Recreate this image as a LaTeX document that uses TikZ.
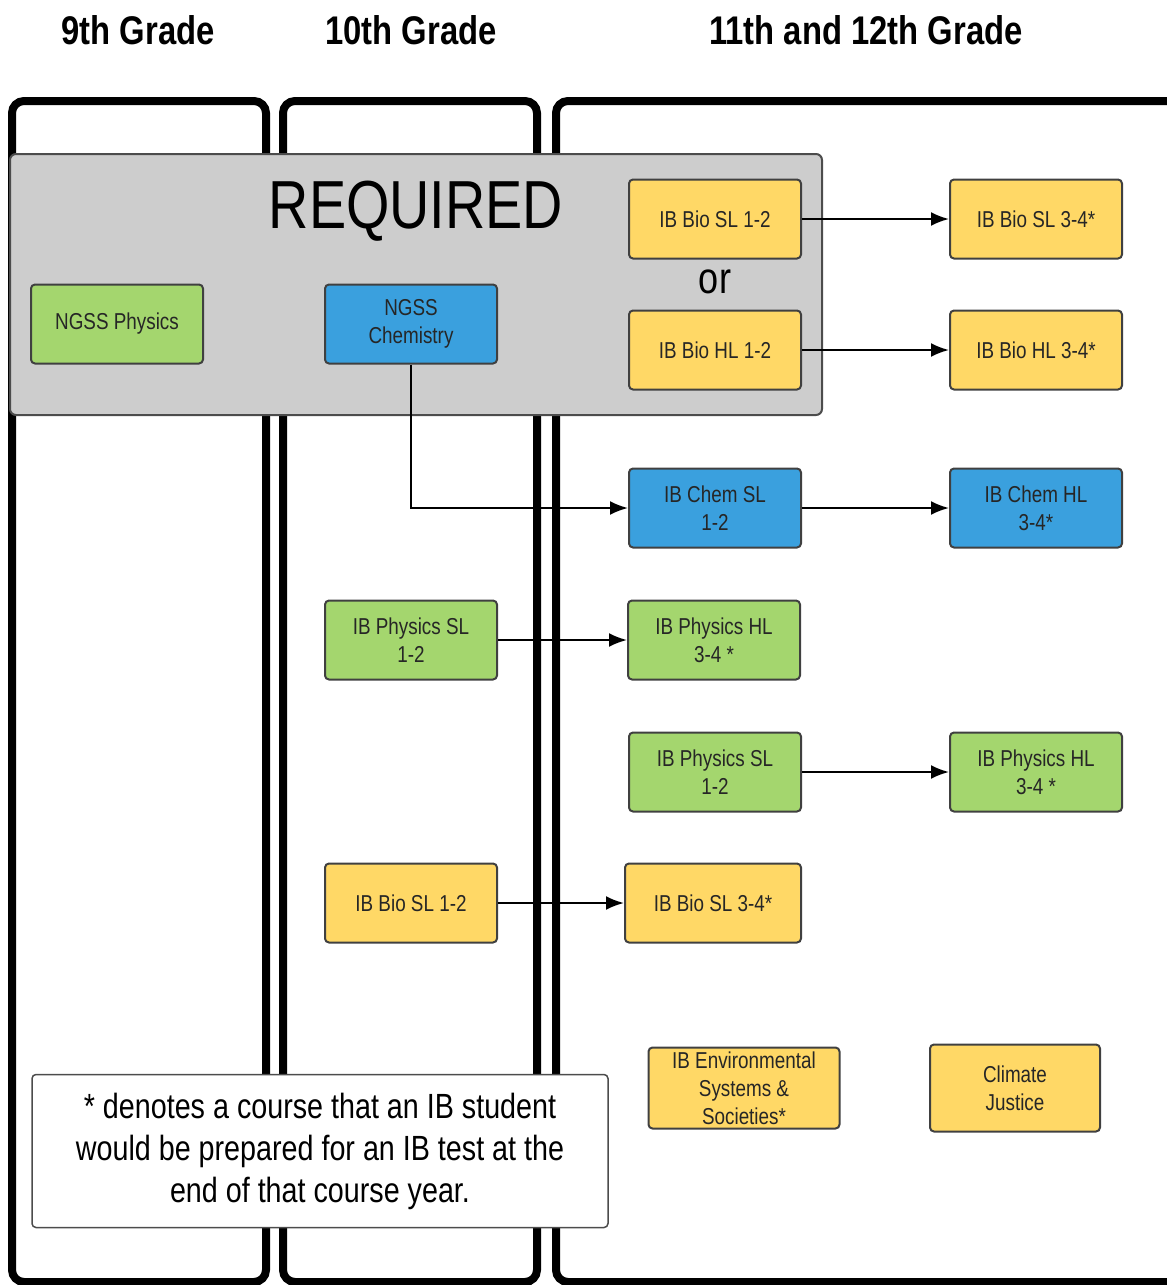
\documentclass[tikz,border=0pt]{standalone}
\usepackage{fontspec}
\setmainfont{Liberation Sans}[FakeStretch=0.82]
\usepackage{xcolor}
\usetikzlibrary{arrows.meta}
\usetikzlibrary{math, positioning}
\definecolor{mygreen}{RGB}{164,214,110}
\definecolor{myblue}{RGB}{58,160,222}
\definecolor{myyellow}{RGB}{255,216,102}
\definecolor{mygray}{RGB}{205,205,205}

\begin{document}
\begin{tikzpicture}[x=1pt,y=-1pt,
  course/.style={draw=black!75, line width=2pt, rounded corners=4pt,
    minimum width=172pt, minimum height=79pt, align=center, inner sep=2pt,
    text=black!85, font=\fontsize{23}{28}\selectfont},
  bio/.style={course, fill=myyellow},
  chem/.style={course, fill=myblue},
  phys/.style={course, fill=mygreen},
  flow/.style={line width=2.2pt, -{Latex[length=18pt,width=14pt]}},
  column/.style={line width=8pt, rounded corners=12pt},
  grade/.style={font=\bfseries\fontsize{40}{48}\selectfont}]
\tikzmath{
\coltop=101;
\colbot=1282;
}
\useasboundingbox (0,0) rectangle (1167,1285);
\clip (0,0) rectangle (1167,1285);

%grade headers
\node[grade] (g9) at (138,30) {9th Grade};
\node[grade] (g10) at (411,30) {10th Grade};
\node[grade] (g11) at (866,30) {11th and 12th Grade};

%columns
\draw[column] (12,\coltop) rectangle (266,\colbot);
\draw[column] (283,\coltop) rectangle (537,\colbot);
\draw[column] (556,\coltop) rectangle (1190,\colbot);

%required block
\draw[fill=mygray, draw=black!70, line width=2pt, rounded corners=6pt] (10,154) rectangle (822,415);
\node[font=\fontsize{68}{80}\selectfont] (req) at (416,211) {REQUIRED};
\node[font=\fontsize{44}{50}\selectfont] (or) at (715,282) {or};

\node[phys] (ngssphys) at (117,324) {NGSS Physics};
\node[chem] (ngsschem) at (411,324) {NGSS\\Chemistry};
\node[bio] (biosl) at (715,219) {IB Bio SL 1-2};
\node[bio] (biohl) at (715,350) {IB Bio HL 1-2};
\node[bio] (biosl34) at (1036,219) {IB Bio SL 3-4*};
\node[bio] (biohl34) at (1036,350) {IB Bio HL 3-4*};

%chemistry
\node[chem] (chemsl) at (715,508) {IB Chem SL\\1-2};
\node[chem] (chemhl) at (1036,508) {IB Chem HL\\3-4*};

%physics
\node[phys] (physsl10) at (411,640) {IB Physics SL\\1-2};
\node[phys] (physhl11) at (714,640) {IB Physics HL\\3-4 *};
\node[phys] (physsl11) at (715,772) {IB Physics SL\\1-2};
\node[phys] (physhl12) at (1036,772) {IB Physics HL\\3-4 *};

%biology and electives
\node[bio] (biosl10) at (411,903) {IB Bio SL 1-2};
\node[bio, minimum width=176pt] (biosl11) at (713,903) {IB Bio SL 3-4*};
\node[bio, minimum width=191pt, minimum height=81pt] (ess) at (744,1088) {IB Environmental\\Systems \&\\Societies*};
\node[bio, minimum width=170pt, minimum height=87pt] (climate) at (1015,1088) {Climate\\Justice};

%note
\node[draw=black!70, fill=white, line width=1.5pt, rounded corners=4pt,
  minimum width=576pt, minimum height=153pt, align=center,
  font=\fontsize{35}{42}\selectfont] (note) at (320,1151)
  {* denotes a course that an IB student\\would be prepared for an IB test at the\\end of that course year.};

%arrows
\draw[flow] (biosl) -- (biosl34);
\draw[flow] (biohl) -- (biohl34);
\draw[flow] (ngsschem.south) |- (chemsl.west);
\draw[flow] (chemsl) -- (chemhl);
\draw[flow] (physsl10) -- (physhl11);
\draw[flow] (physsl11) -- (physhl12);
\draw[flow] (biosl10) -- (biosl11);
\end{tikzpicture}
\end{document}
